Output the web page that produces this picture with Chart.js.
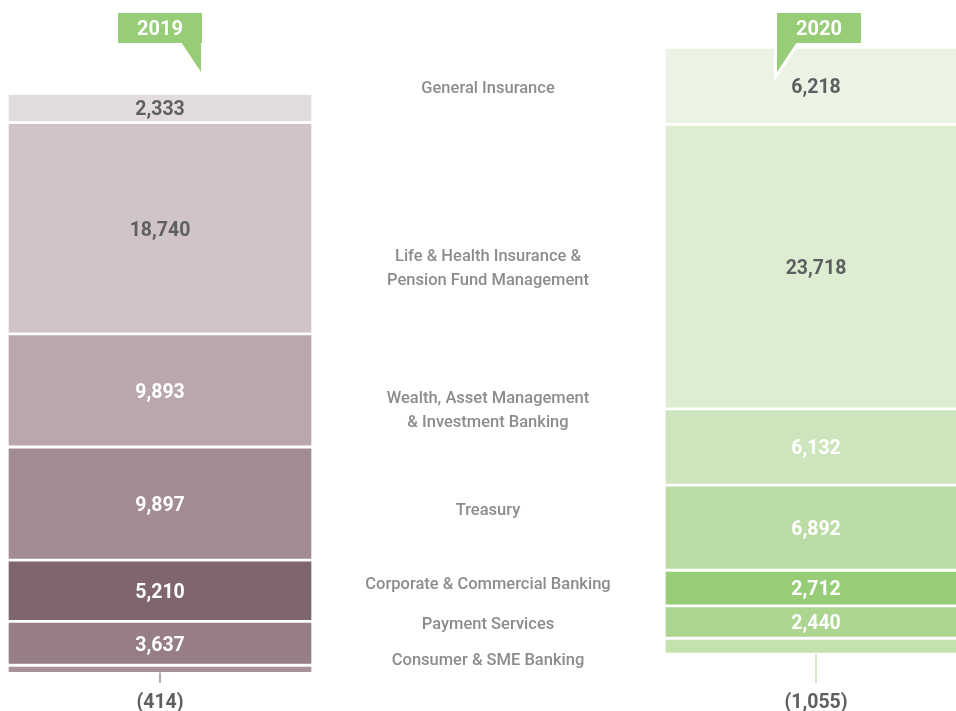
<!DOCTYPE html>
<html>
<head>
<meta charset="utf-8">
<script src="https://cdn.jsdelivr.net/npm/chart.js@4"></script>
<style>
  html, body { margin: 0; padding: 0; background: #fff; overflow: hidden; }
  #wrap { width: 956px; height: 711px; }
</style>
</head>
<body>
<div id="wrap"><canvas id="chart" width="956" height="711"></canvas></div>
<script>
// data, top segment first
const years = ['2019', '2020'];
const segments = [
  'General Insurance',
  'Life & Health Insurance & Pension Fund Management',
  'Wealth, Asset Management & Investment Banking',
  'Treasury',
  'Corporate & Commercial Banking',
  'Payment Services',
  'Consumer & SME Banking'
];
const segmentLines = [
  ['General Insurance'],
  ['Life & Health Insurance &', 'Pension Fund Management'],
  ['Wealth, Asset Management', '& Investment Banking'],
  ['Treasury'],
  ['Corporate & Commercial Banking'],
  ['Payment Services'],
  ['Consumer & SME Banking']
];
const values2019 = [2333, 18740, 9893, 9897, 5210, 3637, -414];
const values2020 = [6218, 23718, 6132, 6892, 2712, 2440, -1055];

const colors2019 = ['#e3dcdf', '#d0c4c8', '#b9a7ad', '#a38b92', '#7f6570', '#967d86', '#a8939b'];
const colors2020 = ['#ebf3e5', '#ddedd2', '#cde5bd', '#bbdca5', '#98cd78', '#acd690', '#c3e2ae'];
const darkText = '#5e5f61';
const greyText = '#8b8c8e';
const tagGreen = '#98cd78';

// label centres (px) for the middle column
const labelY = [89, 269, 411, 511, 585, 625, 661];
const GAP = 3.5;

const fmt = v => v < 0 ? '(' + Math.abs(v).toLocaleString('en-US') + ')' : v.toLocaleString('en-US');

function buildSets(values, colors, xPos, axisId, thickness, tickColor) {
  // reverse so the first segment ends up on top of the stack
  return values.map((v, i) => ({
    label: segments[i],
    data: [{ x: xPos, y: v }],
    yAxisID: axisId,
    stack: 'all',
    backgroundColor: colors[i],
    borderWidth: 0,
    barThickness: thickness,
    labelColor: i < 2 ? darkText : '#ffffff',
    tickColor: tickColor
  })).reverse();
}

const datasets = [
  ...buildSets(values2019, colors2019, 0, 'y', 302, '#a38b92'),
  ...buildSets(values2020, colors2020, 2, 'y2', 300, '#c3e2ae')
];

// white gaps between stacked segments
const gaps = {
  id: 'gaps',
  afterDatasetsUpdate(chart) {
    const count = {};
    chart.data.datasets.forEach((ds, i) => {
      const bar = chart.getDatasetMeta(i).data[0];
      if (!bar) return;
      const key = ds.yAxisID;
      if (ds.data[0].y < 0) {
        bar.y += GAP; bar.base += GAP;
        return;
      }
      const k = count[key] || 0;
      bar.y -= k * GAP; bar.base -= k * GAP;
      count[key] = k + 1;
    });
  }
};

const overlay = {
  id: 'overlay',
  afterDatasetsDraw(chart) {
    const ctx = chart.ctx;
    ctx.save();
    ctx.textAlign = 'center';
    ctx.textBaseline = 'middle';

    // values inside / below the bars
    chart.data.datasets.forEach((ds, i) => {
      const bar = chart.getDatasetMeta(i).data[0];
      if (!bar) return;
      const v = ds.data[0].y;
      ctx.font = 'bold 19.5px Roboto';
      if (v < 0) {
        const bottom = Math.max(bar.y, bar.base);
        ctx.strokeStyle = ds.tickColor;
        ctx.lineWidth = 1.5;
        ctx.beginPath();
        ctx.moveTo(bar.x, bottom + 1);
        ctx.lineTo(bar.x, 683);
        ctx.stroke();
        ctx.fillStyle = darkText;
        ctx.fillText(fmt(v), bar.x, 703);
      } else {
        ctx.fillStyle = ds.labelColor;
        ctx.fillText(fmt(v), bar.x, (bar.y + bar.base) / 2 + 2.5);
      }
    });

    // segment names in the middle
    const midX = chart.scales.x.getPixelForValue(1);
    ctx.font = '500 16.5px Roboto';
    ctx.fillStyle = greyText;
    segmentLines.forEach((lines, i) => {
      lines.forEach((t, j) => {
        ctx.fillText(t, midX, labelY[i] + (j - (lines.length - 1) / 2) * 24);
      });
    });

    // year tags
    const tags = [
      { text: years[0], x: chart.scales.x.getPixelForValue(0), side: 'right' },
      { text: years[1], x: chart.scales.x.getPixelForValue(2) + 3, side: 'left' }
    ];
    tags.forEach(t => {
      const l = t.x - 42, r = t.x + 42, top = 13, bot = 43;
      ctx.beginPath();
      if (t.side === 'right') {
        ctx.moveTo(r - 21, bot - 1);
        ctx.lineTo(r - 1, 72);
        ctx.lineTo(r - 1, bot - 1);
      } else {
        ctx.moveTo(l + 20, bot - 1);
        ctx.lineTo(l, 72);
        ctx.lineTo(l, bot - 1);
      }
      ctx.closePath();
      if (t.side === 'left') {
        ctx.strokeStyle = '#ffffff';
        ctx.lineWidth = 6;
        ctx.lineJoin = 'miter';
        ctx.stroke();
      }
      ctx.fillStyle = tagGreen;
      ctx.fill();
      ctx.fillRect(l, top, r - l, bot - top);
      ctx.fillStyle = '#ffffff';
      ctx.font = 'bold 20px Roboto';
      ctx.fillText(t.text, t.x, 29.5);
    });
    ctx.restore();
  }
};

new Chart(document.getElementById('chart'), {
  type: 'bar',
  data: { datasets: datasets },
  options: {
    responsive: false,
    animation: false,
    layout: { padding: 0 },
    plugins: {
      legend: { display: false },
      tooltip: { enabled: false }
    },
    scales: {
      x: { type: 'linear', min: -0.487805, max: 2.426829, offset: false, stacked: true, display: false },
      y: { type: 'linear', min: -4285, max: 59861, stacked: true, display: false },
      y2: { type: 'linear', min: -6289, max: 53727, stacked: true, display: false }
    }
  },
  plugins: [gaps, overlay]
});
</script>
</body>
</html>
